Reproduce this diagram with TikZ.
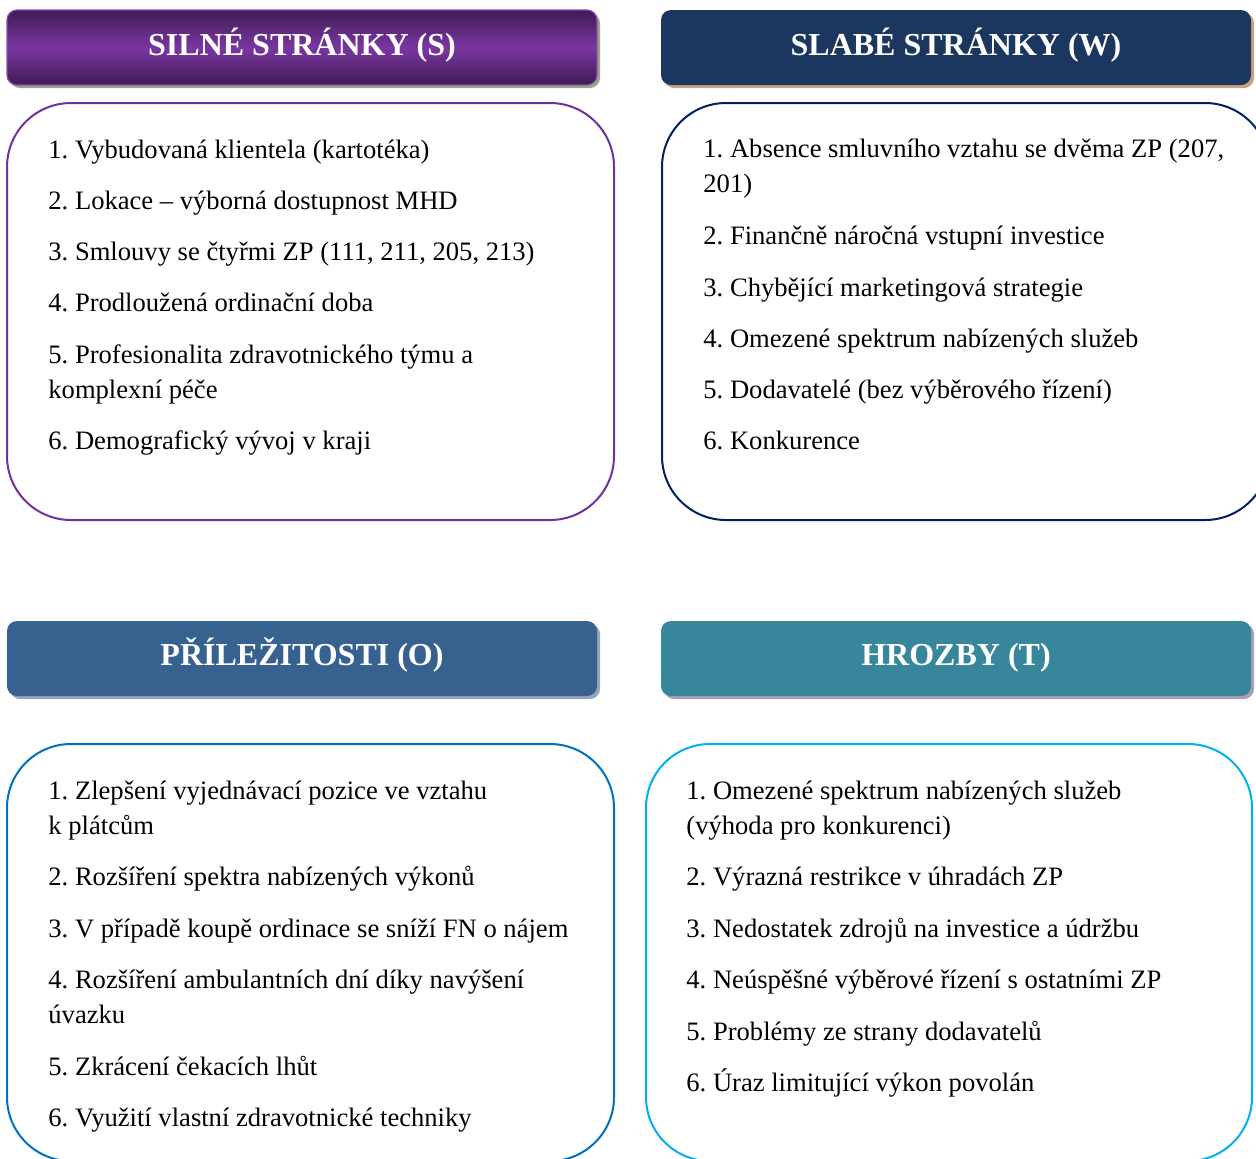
\documentclass[tikz,border=0pt]{standalone}
\usepackage{fontspec}
\setmainfont{Liberation Serif}
\usetikzlibrary{shadows}
\definecolor{sDark}{HTML}{3E1B54}
\definecolor{sMid}{HTML}{7B36A1}
\definecolor{sEdge}{HTML}{8A4DB3}
\definecolor{sShadow}{HTML}{9BA689}
\definecolor{wFill}{HTML}{1B375F}
\definecolor{wShadow}{HTML}{C9A183}
\definecolor{oFill}{HTML}{37618F}
\definecolor{oShadow}{HTML}{97A5B5}
\definecolor{tFill}{HTML}{37869B}
\definecolor{tShadow}{HTML}{A89FB1}
\definecolor{sLine}{HTML}{7030A0}
\definecolor{wLine}{HTML}{002060}
\definecolor{oLine}{HTML}{0070C0}
\definecolor{tLine}{HTML}{00B0F0}
\frenchspacing
\begin{document}
\begin{tikzpicture}[x=0.5pt,y=-0.5pt,
  hdr/.style={rounded corners=5pt, minimum width=295pt, minimum height=37.5pt, inner sep=0pt,
    copy shadow={shadow xshift=1.5pt, shadow yshift=-1.5pt, fill=#1, draw=none}},
  htxt/.style={anchor=base, inner sep=0pt, text=white, font=\fontsize{16}{19}\selectfont\bfseries},
  cbox/.style={draw=#1, line width=1pt, rounded corners=32pt, minimum width=303.5pt, minimum height=208.5pt, inner sep=0pt},
  item/.style={anchor=base west, inner sep=0pt, align=left, font=\fontsize{13.3}{17.5}\selectfont}]
\useasboundingbox (0,0) rectangle (1256,1158);
\clip (0,0) rectangle (1256,1158);
\fill[white] (0,0) rectangle (1256,1158);

% headers
\node[hdr=sShadow, top color=sDark, bottom color=sDark, middle color=sMid, draw=sEdge, line width=0.6pt] (hS) at (302,47.5) {};
\node[hdr=wShadow, fill=wFill] (hW) at (956,47.5) {};
\node[hdr=oShadow, fill=oFill] (hO) at (302,658.5) {};
\node[hdr=tShadow, fill=tFill] (hT) at (956,658.5) {};
\node[htxt] (tS) at (302,55) {SILNÉ STRÁNKY (S)};
\node[htxt] (tW) at (956,55) {SLABÉ STRÁNKY (W)};
\node[htxt] (tO) at (302,665) {PŘÍLEŽITOSTI (O)};
\node[htxt] (tT) at (956,665) {HROZBY (T)};

% content boxes
\node[cbox=sLine] (bS) at (310.5,311.5) {};
\node[cbox=wLine] (bW) at (965.5,311.5) {};
\node[cbox=oLine] (bO) at (310.5,952.5) {};
\node[cbox=tLine, minimum width=303pt] (bT) at (949,952.5) {};

% S items (multi-line nodes are placed at the baseline of their last line)
\node[item] (s1) at (48,158) {1. Vybudovaná klientela (kartotéka)};
\node[item] (s2) at (48,209) {2. Lokace – výborná dostupnost MHD};
\node[item] (s3) at (48,260) {3. Smlouvy se čtyřmi ZP (111, 211, 205, 213)};
\node[item] (s4) at (48,311) {4. Prodloužená ordinační doba};
\node[item] (s5) at (48,398) {5. Profesionalita zdravotnického týmu a\\komplexní péče};
\node[item] (s6) at (48,449) {6. Demografický vývoj v kraji};

% W items
\node[item] (w1) at (703,192) {1. Absence smluvního vztahu se dvěma ZP (207,\\201)};
\node[item] (w2) at (703,244) {2. Finančně náročná vstupní investice};
\node[item] (w3) at (703,296) {3. Chybějící marketingová strategie};
\node[item] (w4) at (703,347) {4. Omezené spektrum nabízených služeb};
\node[item] (w5) at (703,398) {5. Dodavatelé (bez výběrového řízení)};
\node[item] (w6) at (703,449) {6. Konkurence};

% O items
\node[item] (o1) at (48,834) {1. Zlepšení vyjednávací pozice ve vztahu\\k plátcům};
\node[item] (o2) at (48,885) {2. Rozšíření spektra nabízených výkonů};
\node[item] (o3) at (48,937) {3. V případě koupě ordinace se sníží FN o nájem};
\node[item] (o4) at (48,1023) {4. Rozšíření ambulantních dní díky navýšení\\úvazku};
\node[item] (o5) at (48,1075) {5. Zkrácení čekacích lhůt};
\node[item] (o6) at (48,1126) {6. Využití vlastní zdravotnické techniky};

% T items
\node[item] (t1) at (686,834) {1. Omezené spektrum nabízených služeb\\(výhoda pro konkurenci)};
\node[item] (t2) at (686,885) {2. Výrazná restrikce v úhradách ZP};
\node[item] (t3) at (686,937) {3. Nedostatek zdrojů na investice a údržbu};
\node[item] (t4) at (686,988) {4. Neúspěšné výběrové řízení s ostatními ZP};
\node[item] (t5) at (686,1040) {5. Problémy ze strany dodavatelů};
\node[item] (t6) at (686,1091) {6. Úraz limitující výkon povolán};
\end{tikzpicture}
\end{document}
